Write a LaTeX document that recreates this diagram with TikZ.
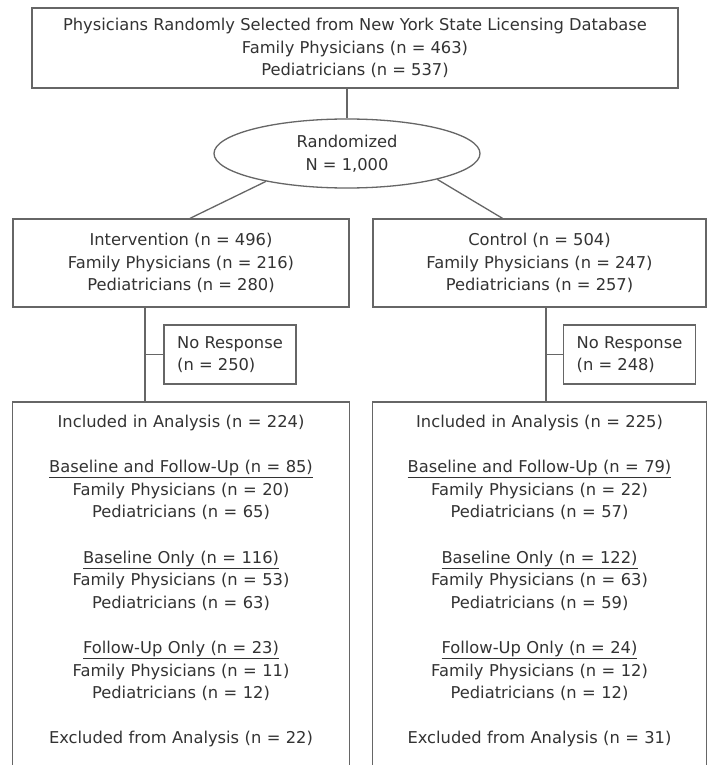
\documentclass[tikz,border=0pt]{standalone}
\usepackage{fontspec}
\setmainfont{DejaVu Sans}
\usetikzlibrary{shapes.geometric,calc}
\definecolor{txt}{HTML}{333333}
\definecolor{ln}{HTML}{666666}
\begin{document}
\begin{tikzpicture}[x=1pt,y=-1pt,
  every node/.style={text=txt, font=\fontsize{16.3}{22.6}\selectfont},
  box/.style={draw=ln, line width=1.3pt, rectangle, align=center, inner sep=0pt},
  oval/.style={draw=ln, line width=1.3pt, ellipse, align=center, inner sep=0pt},
  nrbox/.style={draw=ln, line width=1.3pt, rectangle, align=left, inner sep=0pt, minimum width=132pt, minimum height=59pt},
  resbox/.style={rectangle, align=center, inner xsep=0pt, inner ysep=13pt, text width=336pt, anchor=north},
  link/.style={draw=ln, line width=1.3pt}]
\useasboundingbox (0,0) rectangle (709,765);
\fill[white] (0,0) rectangle (709,765);

\node[box, minimum width=646pt, minimum height=80pt] (top) at (355,48)
  {Physicians Randomly Selected from New York State Licensing Database\\
   Family Physicians (n = 463)\\
   Pediatricians (n = 537)};

\node[oval, minimum width=266pt, minimum height=69pt] (rand) at (347,153.5)
  {Randomized\\ N = 1,000};

\node[box, minimum width=336pt, minimum height=88pt] (int) at (181,263)
  {Intervention (n = 496)\\ Family Physicians (n = 216)\\ Pediatricians (n = 280)};
\node[box, minimum width=333pt, minimum height=88pt] (con) at (539.5,263)
  {Control (n = 504)\\ Family Physicians (n = 247)\\ Pediatricians (n = 257)};

\node[nrbox] (nr1) at (230,354.5) {No Response\\ (n = 250)};
\node[nrbox] (nr2) at (629.5,354.5) {No Response\\ (n = 248)};

\node[resbox] (inc1) at (181,402)
  {Included in Analysis (n = 224)\\[22.6pt]
   \underline{Baseline and Follow-Up (n = 85)}\\
   Family Physicians (n = 20)\\
   Pediatricians (n = 65)\\[22.6pt]
   \underline{Baseline Only (n = 116)}\\
   Family Physicians (n = 53)\\
   Pediatricians (n = 63)\\[22.6pt]
   \underline{Follow-Up Only (n = 23)}\\
   Family Physicians (n = 11)\\
   Pediatricians (n = 12)\\[22.6pt]
   Excluded from Analysis (n = 22)};
\node[resbox, text width=333pt] (inc2) at (539.5,402)
  {Included in Analysis (n = 225)\\[22.6pt]
   \underline{Baseline and Follow-Up (n = 79)}\\
   Family Physicians (n = 22)\\
   Pediatricians (n = 57)\\[22.6pt]
   \underline{Baseline Only (n = 122)}\\
   Family Physicians (n = 63)\\
   Pediatricians (n = 59)\\[22.6pt]
   \underline{Follow-Up Only (n = 24)}\\
   Family Physicians (n = 12)\\
   Pediatricians (n = 12)\\[22.6pt]
   Excluded from Analysis (n = 31)};

\coordinate (pagebottom) at (0,766);
\draw[link] (inc1.north west |- pagebottom) -- (inc1.north west) -- (inc1.north east) -- (inc1.north east |- pagebottom);
\draw[link] (inc2.north west |- pagebottom) -- (inc2.north west) -- (inc2.north east) -- (inc2.north east |- pagebottom);

\draw[link] (rand.north |- top.south) -- (rand.north);
\draw[link] (rand.199) -- ($(int.north)+(9,0)$);
\draw[link] (rand.344) -- ($(con.north)+(-37,0)$);

\coordinate (l1) at ($(int.south)+(-36,0)$);
\coordinate (r1) at ($(con.south)+(6.5,0)$);
\draw[link] (l1) -- (l1 |- inc1.north);
\draw[link] (l1 |- nr1.west) -- (nr1.west);
\draw[link] (r1) -- (r1 |- inc2.north);
\draw[link] (r1 |- nr2.west) -- (nr2.west);
\end{tikzpicture}
\end{document}
